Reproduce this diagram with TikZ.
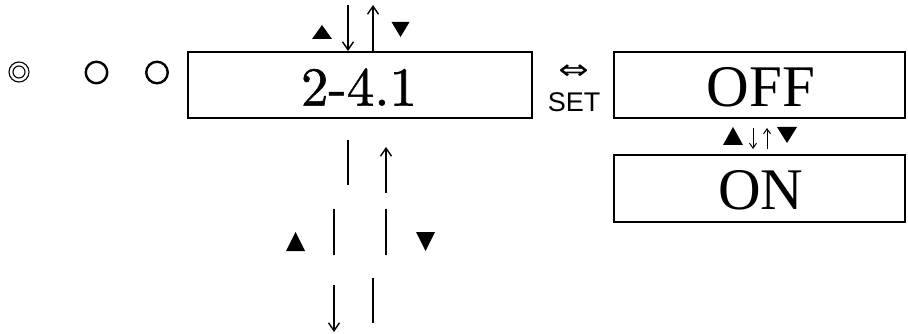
\documentclass[tikz,border=0pt]{standalone}
\usepackage{fontspec}
\usetikzlibrary{arrows.meta,calc}
\newfontfamily\lserif{Liberation Serif}
\newfontfamily\lsans{Liberation Sans}
\newfontfamily\djv{DejaVu Sans}
\newfontfamily\lmr{lmroman10-regular.otf}[FakeBold=1]
\begin{document}
\begin{tikzpicture}[x=1pt,y=-1pt,
  panel/.style={draw,line width=2pt,inner sep=0pt,minimum width=#1},
  bar/.style={line width=2.5pt},
  arr/.style={line width=1.4pt,-{Straight Barb[length=8pt,width=11pt,line width=1.4pt]}},
  smallarr/.style={line width=1pt,-{Straight Barb[length=5pt,width=7pt,line width=1pt]}},
  ring/.style={draw,circle,line width=2.4pt,minimum size=21.5pt,inner sep=0pt}]
\useasboundingbox (0,0) rectangle (908,334);
% boxes
\node[panel=344pt,minimum height=66pt] (b1) at (360,85) {};
\node[font=\lmr\fontsize{55}{55}\selectfont] (t1) at (359,87) {2-4.1};
\node[panel=291pt,minimum height=66pt] (off) at (759.5,85) {};
\node[font=\lserif\fontsize{59}{59}\selectfont] (toff) at (761,87) {OFF};
\node[panel=291pt,minimum height=67pt] (on) at (759.5,188.5) {};
\node[font=\lserif\fontsize{59}{59}\selectfont] (ton) at (761,190) {ON};
% SET
\node[font=\djv\fontsize{28}{28}\selectfont,inner sep=0pt] (eq) at (573.5,72) {\scalebox{1.3}[1]{⇔}};
\node[font=\lsans\fontsize{27}{27}\selectfont,inner sep=0pt] (set) at (574,102) {SET};
% circles
\node[draw,circle,line width=1.1pt,minimum size=20pt,inner sep=0pt] (dc) at (19,72) {};
\node[draw,circle,line width=1.1pt,minimum size=12pt,inner sep=0pt] (dci) at (19,72) {};
\node[ring] (c1) at (96.5,72.5) {};
\node[ring] (c2) at (157,72.5) {};
% top arrows
\coordinate (ta1) at (348,5);
\coordinate (ta2) at (373,5);
\draw[arr] (ta1) -- (ta1 |- b1.north);
\draw[arr] (ta2 |- b1.north) -- (ta2);
\fill[shift={(322,32)}] (-10,7) -- (10,7) -- (0,-7) -- cycle;
\fill[shift={(400.5,29.5)}] (-9,-7.5) -- (9,-7.5) -- (0,7.5) -- cycle;
% OFF/ON arrows
\coordinate (m1) at (753,0);
\coordinate (m2) at (767,0);
\draw[smallarr,shorten <=9pt,shorten >=5pt] (m1 |- off.south) -- (m1 |- on.north);
\draw[smallarr,shorten <=5pt,shorten >=9pt] (m2 |- on.north) -- (m2 |- off.south);
\fill[shift={(733,136)}] (-10,9) -- (10,9) -- (0,-9) -- cycle;
\fill[shift={(787,135)}] (-10,-8) -- (10,-8) -- (0,8) -- cycle;
% bottom
\coordinate (l1a) at (348,140); \coordinate (l1b) at (348,185);
\draw[bar] (l1a) -- (l1b);
\coordinate (u1a) at (386,193); \coordinate (u1b) at (386,147);
\draw[arr] (u1a) -- (u1b);
\coordinate (l2a) at (334,209); \coordinate (l2b) at (334,255);
\draw[bar] (l2a) -- (l2b);
\coordinate (l3a) at (386,209); \coordinate (l3b) at (386,255);
\draw[bar] (l3a) -- (l3b);
\fill[shift={(295.5,241.5)}] (-9.5,9.5) -- (9.5,9.5) -- (0,-9.5) -- cycle;
\fill[shift={(425.5,241.5)}] (-9.5,-9.5) -- (9.5,-9.5) -- (0,9.5) -- cycle;
\coordinate (d1a) at (334,285); \coordinate (d1b) at (334,332);
\draw[arr] (d1a) -- (d1b);
\coordinate (l4a) at (373,278); \coordinate (l4b) at (373,323);
\draw[bar] (l4a) -- (l4b);
\end{tikzpicture}
\end{document}
